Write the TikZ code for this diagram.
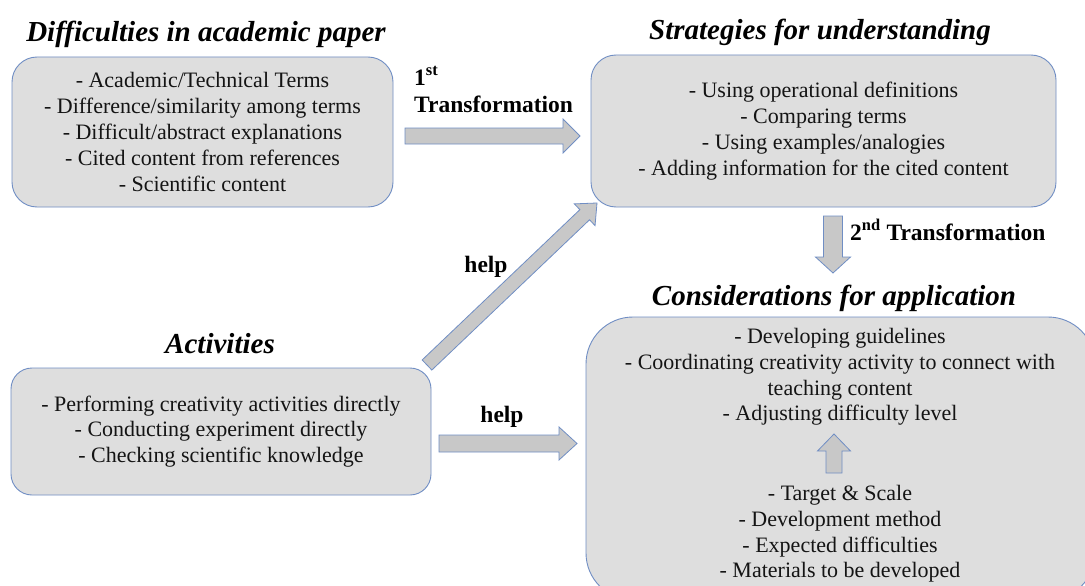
\documentclass[tikz,border=0pt]{standalone}
\usepackage{fontspec}
\setmainfont{Liberation Serif}
\usetikzlibrary{calc}
\definecolor{boxfill}{RGB}{222,222,222}
\definecolor{boxline}{RGB}{112,142,196}
\definecolor{arrfill}{RGB}{200,200,200}
\definecolor{txt}{RGB}{20,20,20}
\newcommand\bodyfont{\fontsize{22}{25.8}\selectfont}
\newcommand\titlefont{\fontsize{29}{33}\selectfont\bfseries\itshape}
\newcommand\lblfont{\fontsize{23.5}{27}\selectfont\bfseries}
\newcommand\blockarrow[5]{%
  \path let \p1=($(#2)-(#1)$) in \pgfextra{%
    \pgfmathsetmacro\baang{atan2(\y1,\x1)}%
    \pgfmathsetmacro\balen{veclen(\x1,\y1)}%
    \global\let\baangG\baang \global\let\balenG\balen};
  \draw[blockarr, shift={(#1)}, rotate=\baangG]
    (0pt,-#3pt) -- ({\balenG pt-#5pt},-#3pt) -- ({\balenG pt-#5pt},-#4pt)
    -- (\balenG pt,0pt) -- ({\balenG pt-#5pt},#4pt) -- ({\balenG pt-#5pt},#3pt)
    -- (0pt,#3pt) -- cycle;
}
\tikzset{
  box/.style={draw=boxline, line width=0.9pt, fill=boxfill, text=txt, align=center, font=\bodyfont, inner sep=0pt},
  body/.style={font=\bodyfont, align=center, text=txt, inner sep=0pt},
  ttl/.style={font=\titlefont, anchor=base, text=black, inner sep=0pt},
  lbl/.style={font=\lblfont, anchor=base west, text=black, inner sep=0pt},
  blockarr/.style={draw=boxline, fill=arrfill, line width=0.8pt, line join=miter},
}
\begin{document}
\begin{tikzpicture}[x=1pt,y=-1pt]
\useasboundingbox (0,0) rectangle (1085,586);
\clip (0,0) rectangle (1085,586);
\fill[white] (0,0) rectangle (1085,586);

% boxes
\node[box, minimum width=381pt, minimum height=150pt, rounded corners=25pt] (b1) at (202.5,132)
 {- Academic/Technical Terms\\- Difference/similarity among terms\\- Difficult/abstract explanations\\- Cited content from references\\- Scientific content};
\node[box, minimum width=465pt, minimum height=152pt, rounded corners=25pt] (b2) at (823.5,131)
 {- Using operational definitions\\- Comparing terms\\- Using examples/analogies\\- Adding information for the cited content};
\node[box, minimum width=420pt, minimum height=127pt, rounded corners=21pt] (b3) at (221,431.5)
 {- Performing creativity activities directly\\- Conducting experiment directly\\- Checking scientific knowledge};
\node[box, minimum width=509pt, minimum height=283pt, rounded corners=47pt] (b4) at (840.5,458.5) {};
\node[body] (c1) at (840,377)
 {- Developing guidelines\\- Coordinating creativity activity to connect with\\teaching content\\- Adjusting difficulty level};
\node[body] (c2) at (840,534)
 {- Target \& Scale\\- Development method\\- Expected difficulties\\- Materials to be developed};

% titles
\node[ttl] (t1) at (206,42) {Difficulties in academic paper};
\node[ttl] (t2) at (820,40) {Strategies for understanding};
\node[ttl] (t3) at (834,305) {Considerations for application};
\node[ttl] (t4) at (220,353) {Activities};

% arrow end points
\coordinate (a1s) at (405,136);
\coordinate (a1e) at (580,136);
\coordinate (a2s) at (833,216);
\coordinate (a2e) at (833,273);
\coordinate (a3s) at (427,365);
\coordinate (a3e) at (597,203);
\coordinate (a4s) at (439,443.5);
\coordinate (a4e) at (577,443.5);
\coordinate (a5s) at (834,473);
\coordinate (a5e) at (834,434);

\blockarrow{a1s}{a1e}{8}{17}{17}
\blockarrow{a2s}{a2e}{9.5}{17.5}{16}
\blockarrow{a3s}{a3e}{7}{15}{17}
\blockarrow{a4s}{a4e}{8.5}{16.5}{18}
\blockarrow{a5s}{a5e}{8}{16.5}{17}

% labels
\node[lbl] (l1) at (414,85) {1\textsuperscript{st}};
\node[lbl] (l1b) at (414,113) {Transformation};
\node[lbl] (l2) at (850,240) {2\textsuperscript{nd} Transformation};
\node[lbl, anchor=base] (h1) at (486,272) {help};
\node[lbl, anchor=base] (h2) at (502,422) {help};
\end{tikzpicture}
\end{document}
